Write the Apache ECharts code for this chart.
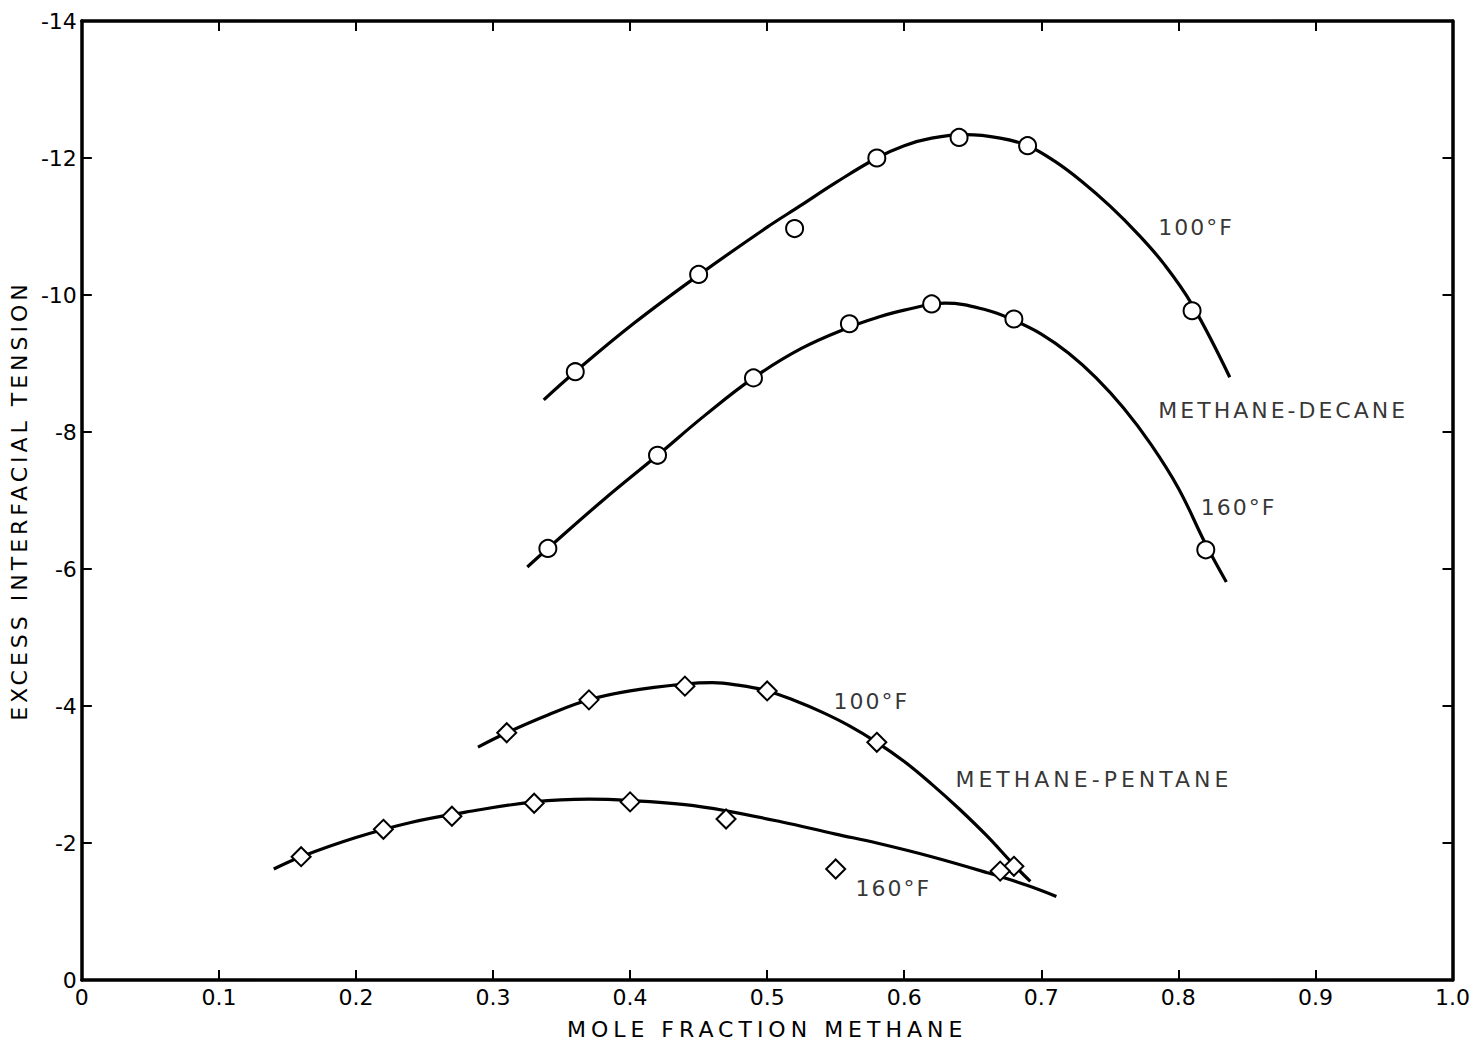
<!DOCTYPE html>
<html>
<head>
<meta charset="utf-8">
<script src="https://cdn.jsdelivr.net/npm/echarts@6/dist/echarts.min.js"></script>
<style>
html,body{margin:0;padding:0;background:#fff;}
#chart{width:1473px;height:1046px;}
</style>
</head>
<body>
<div id="chart"></div>
<script>
const decane100X = [0.36, 0.45, 0.52, 0.58, 0.64, 0.69, 0.81];
const decane100Y = [-8.88, -10.30, -10.97, -12.00, -12.30, -12.18, -9.77];
const decane160X = [0.34, 0.42, 0.49, 0.56, 0.62, 0.68, 0.82];
const decane160Y = [-6.30, -7.66, -8.79, -9.58, -9.87, -9.65, -6.28];
const pentane100X = [0.31, 0.37, 0.44, 0.50, 0.58, 0.68];
const pentane100Y = [-3.61, -4.09, -4.29, -4.22, -3.47, -1.66];
const pentane160X = [0.16, 0.22, 0.27, 0.33, 0.40, 0.47, 0.55, 0.67];
const pentane160Y = [-1.80, -2.20, -2.39, -2.58, -2.60, -2.35, -1.62, -1.59];

// ---- hand-drawn fitted curves ----
const decane100CurveX = [0.337, 0.36, 0.403, 0.45, 0.50, 0.524, 0.55, 0.58, 0.60, 0.62, 0.645, 0.67, 0.69, 0.71, 0.73, 0.75, 0.77, 0.79, 0.81, 0.8375];
const decane100CurveY = [-8.47, -8.88, -9.59, -10.29, -10.99, -11.30, -11.64, -12.00, -12.18, -12.29, -12.34, -12.29, -12.18, -11.95, -11.65, -11.30, -10.90, -10.44, -9.86, -8.80];
const decane160CurveX = [0.325, 0.34, 0.38, 0.42, 0.455, 0.49, 0.525, 0.56, 0.58, 0.60, 0.63, 0.66, 0.68, 0.70, 0.72, 0.74, 0.76, 0.78, 0.80, 0.82, 0.835];
const decane160CurveY = [-6.03, -6.30, -7.00, -7.66, -8.25, -8.79, -9.22, -9.53, -9.67, -9.78, -9.88, -9.78, -9.63, -9.43, -9.15, -8.79, -8.35, -7.82, -7.18, -6.36, -5.81];
const pentane100CurveX = [0.289, 0.31, 0.34, 0.37, 0.40, 0.44, 0.46, 0.48, 0.50, 0.52, 0.54, 0.56, 0.58, 0.60, 0.62, 0.64, 0.66, 0.68, 0.692];
const pentane100CurveY = [-3.40, -3.61, -3.87, -4.09, -4.22, -4.32, -4.34, -4.30, -4.22, -4.08, -3.91, -3.71, -3.47, -3.19, -2.86, -2.50, -2.11, -1.68, -1.44];
const pentane160CurveX = [0.14, 0.16, 0.20, 0.24, 0.28, 0.33, 0.37, 0.40, 0.44, 0.47, 0.51, 0.55, 0.58, 0.62, 0.66, 0.69, 0.711];
const pentane160CurveY = [-1.62, -1.80, -2.08, -2.30, -2.45, -2.60, -2.64, -2.62, -2.56, -2.47, -2.31, -2.13, -2.00, -1.80, -1.57, -1.38, -1.22];

// ---- tick labels / texts ----
const xTickLabels = ['0', '0.1', '0.2', '0.3', '0.4', '0.5', '0.6', '0.7', '0.8', '0.9', '1.0'];
const yTickLabels = ['-14', '-12', '-10', '-8', '-6', '-4', '-2', '0'];
const xTitle = 'MOLE FRACTION METHANE';
const yTitle = 'EXCESS INTERFACIAL TENSION';
const annotationTexts = ['100°F', 'METHANE-DECANE', '160°F', '100°F', 'METHANE-PENTANE', '160°F'];

// ---- layout (annotation anchors in axis units: left edge, vertical middle) ----
const annotationAnchors = [[0.785, -10.98], [0.785, -8.32], [0.816, -6.90], [0.548, -4.06], [0.637, -2.92], [0.564, -1.34]];

const zip = (xs, ys) => xs.map((x, i) => [x, ys[i]]);
const FONT = 'DejaVu Sans';

const axisLineStyle = { color: '#000', width: 3.5 };
const tickStyle = { color: '#000', width: 2 };

function xFmt(v) { return xTickLabels[Math.round(v * 10)]; }
function yFmt(v) { return yTickLabels[Math.round((v + 14) / 2)]; }

const lineSeries = (name, xs, ys) => ({
  name, type: 'line', data: zip(xs, ys), smooth: 0.4,
  showSymbol: false, symbol: 'none', silent: true, z: 2,
  lineStyle: { color: '#000', width: 3.2 }
});
const pointSeries = (name, xs, ys, symbol, size) => ({
  name, type: 'scatter', data: zip(xs, ys), symbol, symbolSize: size, z: 5, silent: true,
  itemStyle: { color: '#fff', borderColor: '#000', borderWidth: 2, opacity: 1 }
});

const chart = echarts.init(document.getElementById('chart'), null, { renderer: 'svg', width: 1473, height: 1046 });

const option = {
  animation: false,
  backgroundColor: '#fff',
  grid: { left: 78, right: 17, top: 21, bottom: 66, containLabel: false },
  xAxis: [
    {
      type: 'value', min: 0, max: 1, interval: 0.1, position: 'bottom',
      axisLine: { onZero: false, lineStyle: axisLineStyle },
      axisTick: { inside: true, length: 10, lineStyle: tickStyle },
      axisLabel: { color: '#000', fontFamily: FONT, fontSize: 22, margin: 6, formatter: xFmt, showMinLabel: true, showMaxLabel: true },
      splitLine: { show: false },
      name: xTitle, nameLocation: 'middle', nameGap: 38,
      nameTextStyle: { color: '#000', fontFamily: FONT, fontSize: 22 }
    },
    {
      type: 'value', min: 0, max: 1, interval: 0.1, position: 'top',
      axisLine: { onZero: false, lineStyle: axisLineStyle },
      axisTick: { inside: true, length: 10, lineStyle: tickStyle },
      axisLabel: { show: false }, splitLine: { show: false }
    }
  ],
  yAxis: [
    {
      type: 'value', min: -14, max: 0, interval: 2, inverse: true, position: 'left',
      axisLine: { onZero: false, lineStyle: axisLineStyle },
      axisTick: { inside: true, length: 10, lineStyle: tickStyle },
      axisLabel: { color: '#000', fontFamily: FONT, fontSize: 22, margin: 5, formatter: yFmt, showMinLabel: true, showMaxLabel: true },
      splitLine: { show: false },
      name: yTitle, nameLocation: 'middle', nameGap: 40,
      nameTextStyle: { color: '#000', fontFamily: FONT, fontSize: 22 }
    },
    {
      type: 'value', min: -14, max: 0, interval: 2, inverse: true, position: 'right',
      axisLine: { onZero: false, lineStyle: axisLineStyle },
      axisTick: { inside: true, length: 10, lineStyle: tickStyle },
      axisLabel: { show: false }, splitLine: { show: false }
    }
  ],
  series: [
    lineSeries('Methane-Decane 100°F curve', decane100CurveX, decane100CurveY),
    lineSeries('Methane-Decane 160°F curve', decane160CurveX, decane160CurveY),
    lineSeries('Methane-Pentane 100°F curve', pentane100CurveX, pentane100CurveY),
    lineSeries('Methane-Pentane 160°F curve', pentane160CurveX, pentane160CurveY),
    pointSeries('Methane-Decane 100°F', decane100X, decane100Y, 'circle', 17),
    pointSeries('Methane-Decane 160°F', decane160X, decane160Y, 'circle', 17),
    pointSeries('Methane-Pentane 100°F', pentane100X, pentane100Y, 'diamond', 19),
    pointSeries('Methane-Pentane 160°F', pentane160X, pentane160Y, 'diamond', 19),
    {
      name: 'annotations', type: 'scatter', silent: true, z: 6,
      symbolSize: 1, itemStyle: { color: 'rgba(0,0,0,0)' },
      data: annotationAnchors.map((p, i) => ({ value: p, label: { formatter: annotationTexts[i] } })),
      label: {
        show: true, position: 'right', distance: 0, color: '#000',
        fontFamily: FONT, fontSize: 22, align: 'left', verticalAlign: 'middle'
      }
    }
  ]
};
chart.setOption(option);

// widen the hand-lettered captions a little (letter spacing on SVG text)
const spacing = {};
spacing[xTitle] = 5; spacing[yTitle] = 4;
spacing['METHANE-DECANE'] = 3; spacing['METHANE-PENTANE'] = 4; spacing['100°F'] = 2; spacing['160°F'] = 2;
function applySpacing() {
  document.querySelectorAll('#chart svg text').forEach(t => {
    const s = t.textContent;
    if (spacing[s] !== undefined) t.style.letterSpacing = spacing[s] + 'px';
  });
}
applySpacing();
chart.on('finished', applySpacing);
</script>
</body>
</html>
